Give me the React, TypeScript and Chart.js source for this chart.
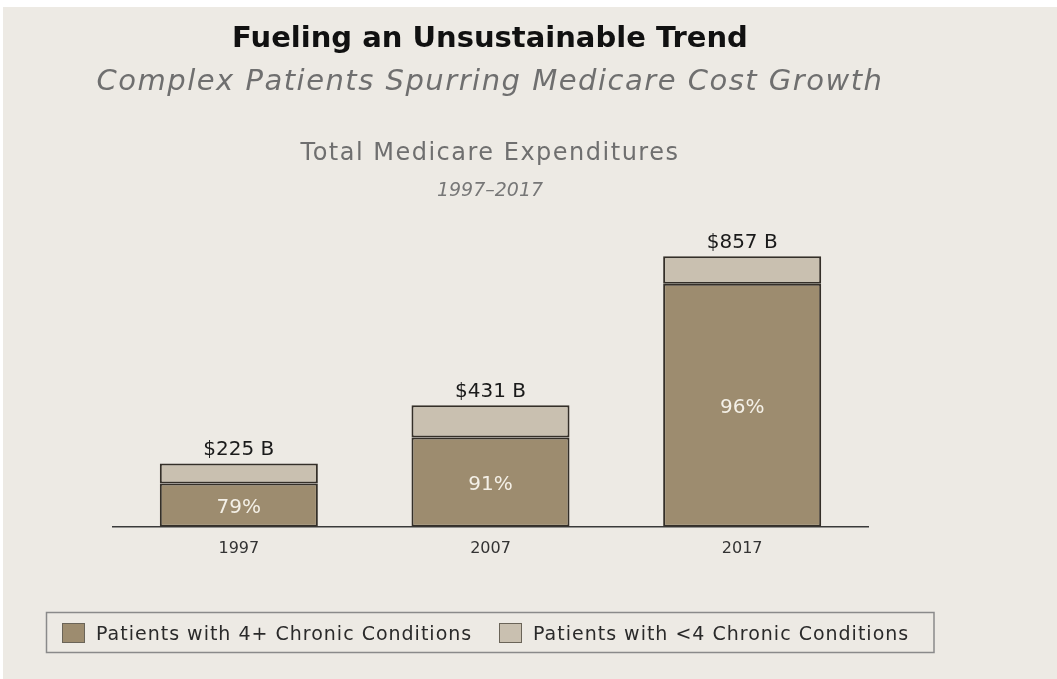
import React, { useEffect, useRef } from "react";
import { Chart, registerables } from "chart.js";

Chart.register(...registerables);

// ---- data ----
const years = ["1997", "2007", "2017"];
// segment heights in $B as drawn
const chronic4Plus = [137, 282, 767];
const chronicUnder4 = [63, 102, 87];
const totalLabels = ["$225 B", "$431 B", "$857 B"];
const shareLabels = ["79%", "91%", "96%"];
const seriesNames = ["Patients with 4+ Chronic Conditions", "Patients with <4 Chronic Conditions"];
const titleText = "Fueling an Unsustainable Trend";
const subtitleText = "Complex Patients Spurring Medicare Cost Growth";
const chartTitle = "Total Medicare Expenditures";
const chartSubtitle = "1997\u20132017";
const yMax = 1000;

const FONT = '"DejaVu Sans", "Liberation Sans", sans-serif';
const DARK = "#9d8c6f";
const LIGHT = "#c9c0b0";
const EDGE = "#342f28";
const BG = "#edeae4";
const CX = 490;

function text(ctx: CanvasRenderingContext2D, s: string, x: number, y: number, font: string, color: string, align: CanvasTextAlign = "center", spacing = 0) {
  ctx.save();
  ctx.font = font;
  ctx.fillStyle = color;
  ctx.textAlign = align;
  ctx.textBaseline = "alphabetic";
  (ctx as any).letterSpacing = spacing + "px";
  ctx.fillText(s, x, y);
  ctx.restore();
}

const bgPlugin = {
  id: "bgPlugin",
  beforeDraw(chart: any) {
    const c = chart.ctx;
    c.save();
    c.fillStyle = "#ffffff";
    c.fillRect(0, 0, chart.width, chart.height);
    c.fillStyle = BG;
    c.fillRect(3, 7, chart.width - 3, chart.height - 7);
    c.restore();
  },
};

const decorPlugin = {
  id: "decorPlugin",
  afterDatasetsDraw(chart: any) {
    const ctx = chart.ctx;
    const m0 = chart.getDatasetMeta(0);
    const m1 = chart.getDatasetMeta(1);
    years.forEach((_, i) => {
      const d = m0.data[i];
      const t = m1.data[i];
      const mid = (d.y + d.base) / 2;
      text(ctx, shareLabels[i], d.x, mid + 7.5, `20px ${FONT}`, "#f4f0e7");
      text(ctx, totalLabels[i], t.x, t.y - 8, `20px ${FONT}`, "#1a1a1a");
    });
  },
  afterDraw(chart: any) {
    const ctx = chart.ctx;
    text(ctx, titleText, CX, 47, `bold 29px ${FONT}`, "#111111");
    text(ctx, subtitleText, CX, 90, `italic 29px ${FONT}`, "#6f6f6f", "center", 1.5);
    text(ctx, chartTitle, CX, 160, `24px ${FONT}`, "#6f6f6f", "center", 1.5);
    text(ctx, chartSubtitle, CX, 196, `italic 19px ${FONT}`, "#777777");

    // legend box
    ctx.save();
    ctx.strokeStyle = "#8a8a8a";
    ctx.lineWidth = 1.5;
    ctx.strokeRect(46.5, 612.5, 887.5, 40);
    const sw = [62, 499];
    const tx = [96, 533];
    chart.data.datasets.forEach((ds: any, i: number) => {
      ctx.fillStyle = ds.backgroundColor;
      ctx.fillRect(sw[i], 623, 23, 20);
      ctx.strokeStyle = "#6a6458";
      ctx.lineWidth = 1;
      ctx.strokeRect(sw[i] + 0.5, 623.5, 22, 19);
      text(ctx, ds.label, tx[i], 640, `19px ${FONT}`, "#2a2a2a", "left", 1);
    });
    ctx.restore();
  },
};

export default function App() {
  const ref = useRef<HTMLCanvasElement | null>(null);
  useEffect(() => {
    if (!ref.current) return;
    const common = {
      borderColor: EDGE,
      borderWidth: 2,
      borderSkipped: false,
      categoryPercentage: 0.628,
      barPercentage: 1,
      stack: "s",
    };
    const chart = new Chart(ref.current, {
      type: "bar",
      data: {
        labels: years,
        datasets: [
          { label: seriesNames[0], data: chronic4Plus, backgroundColor: DARK, ...common },
          { label: seriesNames[1], data: chronicUnder4, backgroundColor: LIGHT, ...common },
        ],
      },
      options: {
        responsive: false,
        animation: false,
        events: [],
        layout: { padding: { left: 113, right: 189, top: 210, bottom: 109 } },
        plugins: { legend: { display: false }, tooltip: { enabled: false }, title: { display: false } },
        scales: {
          x: {
            stacked: true,
            grid: { display: false, drawTicks: false },
            border: { display: true, color: "#3a3a3a", width: 1.5 },
            ticks: { color: "#333333", font: { family: FONT, size: 16 }, padding: 12 },
          },
          y: { stacked: true, display: false, min: 0, max: yMax },
        },
      } as any,
      plugins: [bgPlugin, decorPlugin],
    });
    return () => chart.destroy();
  }, []);
  return (
    <canvas
      ref={ref}
      width={1057}
      height={679}
      style={{ position: "fixed", left: 0, top: 0, width: 1057, height: 679, display: "block" }}
    />
  );
}
